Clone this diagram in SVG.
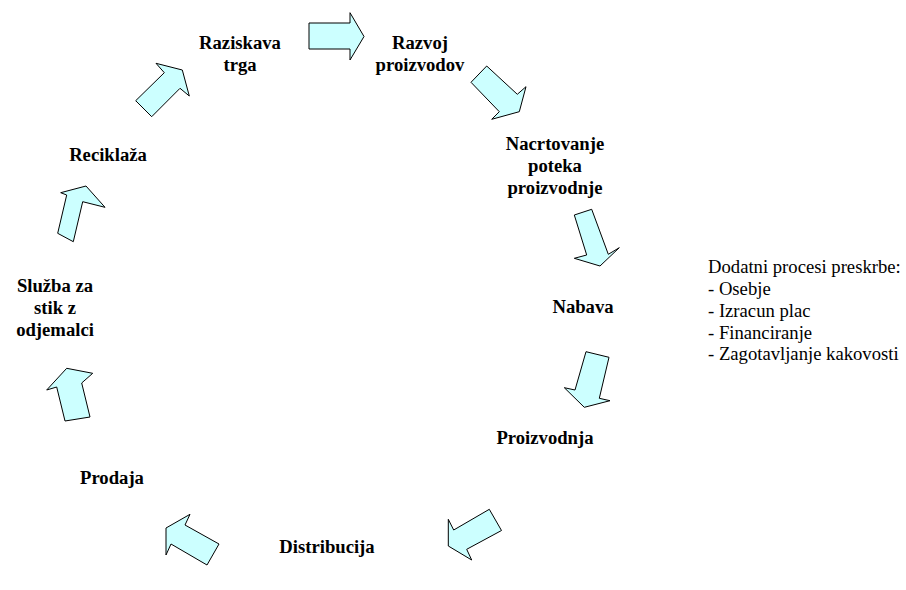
<svg xmlns="http://www.w3.org/2000/svg" width="906" height="590" viewBox="0 0 906 590">
  <style>
    .arrow { fill: #ccffff; stroke: #000000; stroke-width: 1; stroke-linejoin: miter; }
    text { font-family: 'Liberation Serif', 'Times New Roman', Times, serif; font-size: 18.67px; fill: #000000; }
    .lbl { font-weight: bold; text-anchor: middle; }
  </style>
  <rect width="906" height="590" fill="#ffffff"/>

  <!-- block arrows between the process steps -->
  <g id="connectors">
    <polygon class="arrow" points="156,63.3 182.3,70 189.3,96 180,88.3 151.7,116.7 135.7,100.7 164.3,72.7"/>
    <polygon class="arrow" points="309,23 350,23 350,12.7 364,36.5 350,60 350,49 309,49"/>
    <polygon class="arrow" points="486.7,66 471,82.3 499.3,111.7 491.7,119.3 519.3,111.7 526,86.7 517.3,94.3"/>
    <polygon class="arrow" points="574.3,215 591.7,209.3 608.3,254.3 619.3,247.7 600,266 574.3,258.3 586.7,255"/>
    <polygon class="arrow" points="586,351.7 609,357.3 599.3,398.3 610,400.7 584.3,407.3 564.3,387.7 575,390"/>
    <polygon class="arrow" points="489.3,509.3 501.5,530.5 466.7,549.3 471.7,560 448.3,546 448.3,519.3 453.7,530"/>
    <polygon class="arrow" points="207,565 219,544 185,525 190,514.3 166,528 166,555 171,544"/>
    <polygon class="arrow" points="65,421 90,417 81.7,383 92.7,373.3 66.7,368.3 46.7,390 56.7,387"/>
    <polygon class="arrow" points="86,186 105,207.3 82.7,201.7 73.3,241.7 57.7,233.3 66.7,195 60.7,192.7"/>
  </g>

  <!-- process steps -->
  <g id="raziskava">
    <text class="lbl" x="240" y="49">Raziskava</text>
    <text class="lbl" x="240" y="71">trga</text>
  </g>
  <g id="razvoj">
    <text class="lbl" x="420" y="49">Razvoj</text>
    <text class="lbl" x="420" y="71">proizvodov</text>
  </g>
  <g id="nacrtovanje">
    <text class="lbl" x="555" y="150">Nacrtovanje</text>
    <text class="lbl" x="555" y="172">poteka</text>
    <text class="lbl" x="555" y="194">proizvodnje</text>
  </g>
  <g id="nabava">
    <text class="lbl" x="583" y="313">Nabava</text>
  </g>
  <g id="proizvodnja">
    <text class="lbl" x="545" y="444">Proizvodnja</text>
  </g>
  <g id="distribucija">
    <text class="lbl" x="327" y="553">Distribucija</text>
  </g>
  <g id="prodaja">
    <text class="lbl" x="112" y="484">Prodaja</text>
  </g>
  <g id="sluzba">
    <text class="lbl" x="55" y="292">Služba za</text>
    <text class="lbl" x="55" y="314">stik z</text>
    <text class="lbl" x="55" y="336">odjemalci</text>
  </g>
  <g id="reciklaza">
    <text class="lbl" x="108" y="161">Reciklaža</text>
  </g>

  <!-- supporting processes -->
  <g id="dodatni">
    <text x="708" y="273">Dodatni procesi preskrbe:</text>
    <text x="708" y="295">- Osebje</text>
    <text x="708" y="317">- Izracun plac</text>
    <text x="708" y="338.5">- Financiranje</text>
    <text x="708" y="360">- Zagotavljanje kakovosti</text>
  </g>
</svg>
